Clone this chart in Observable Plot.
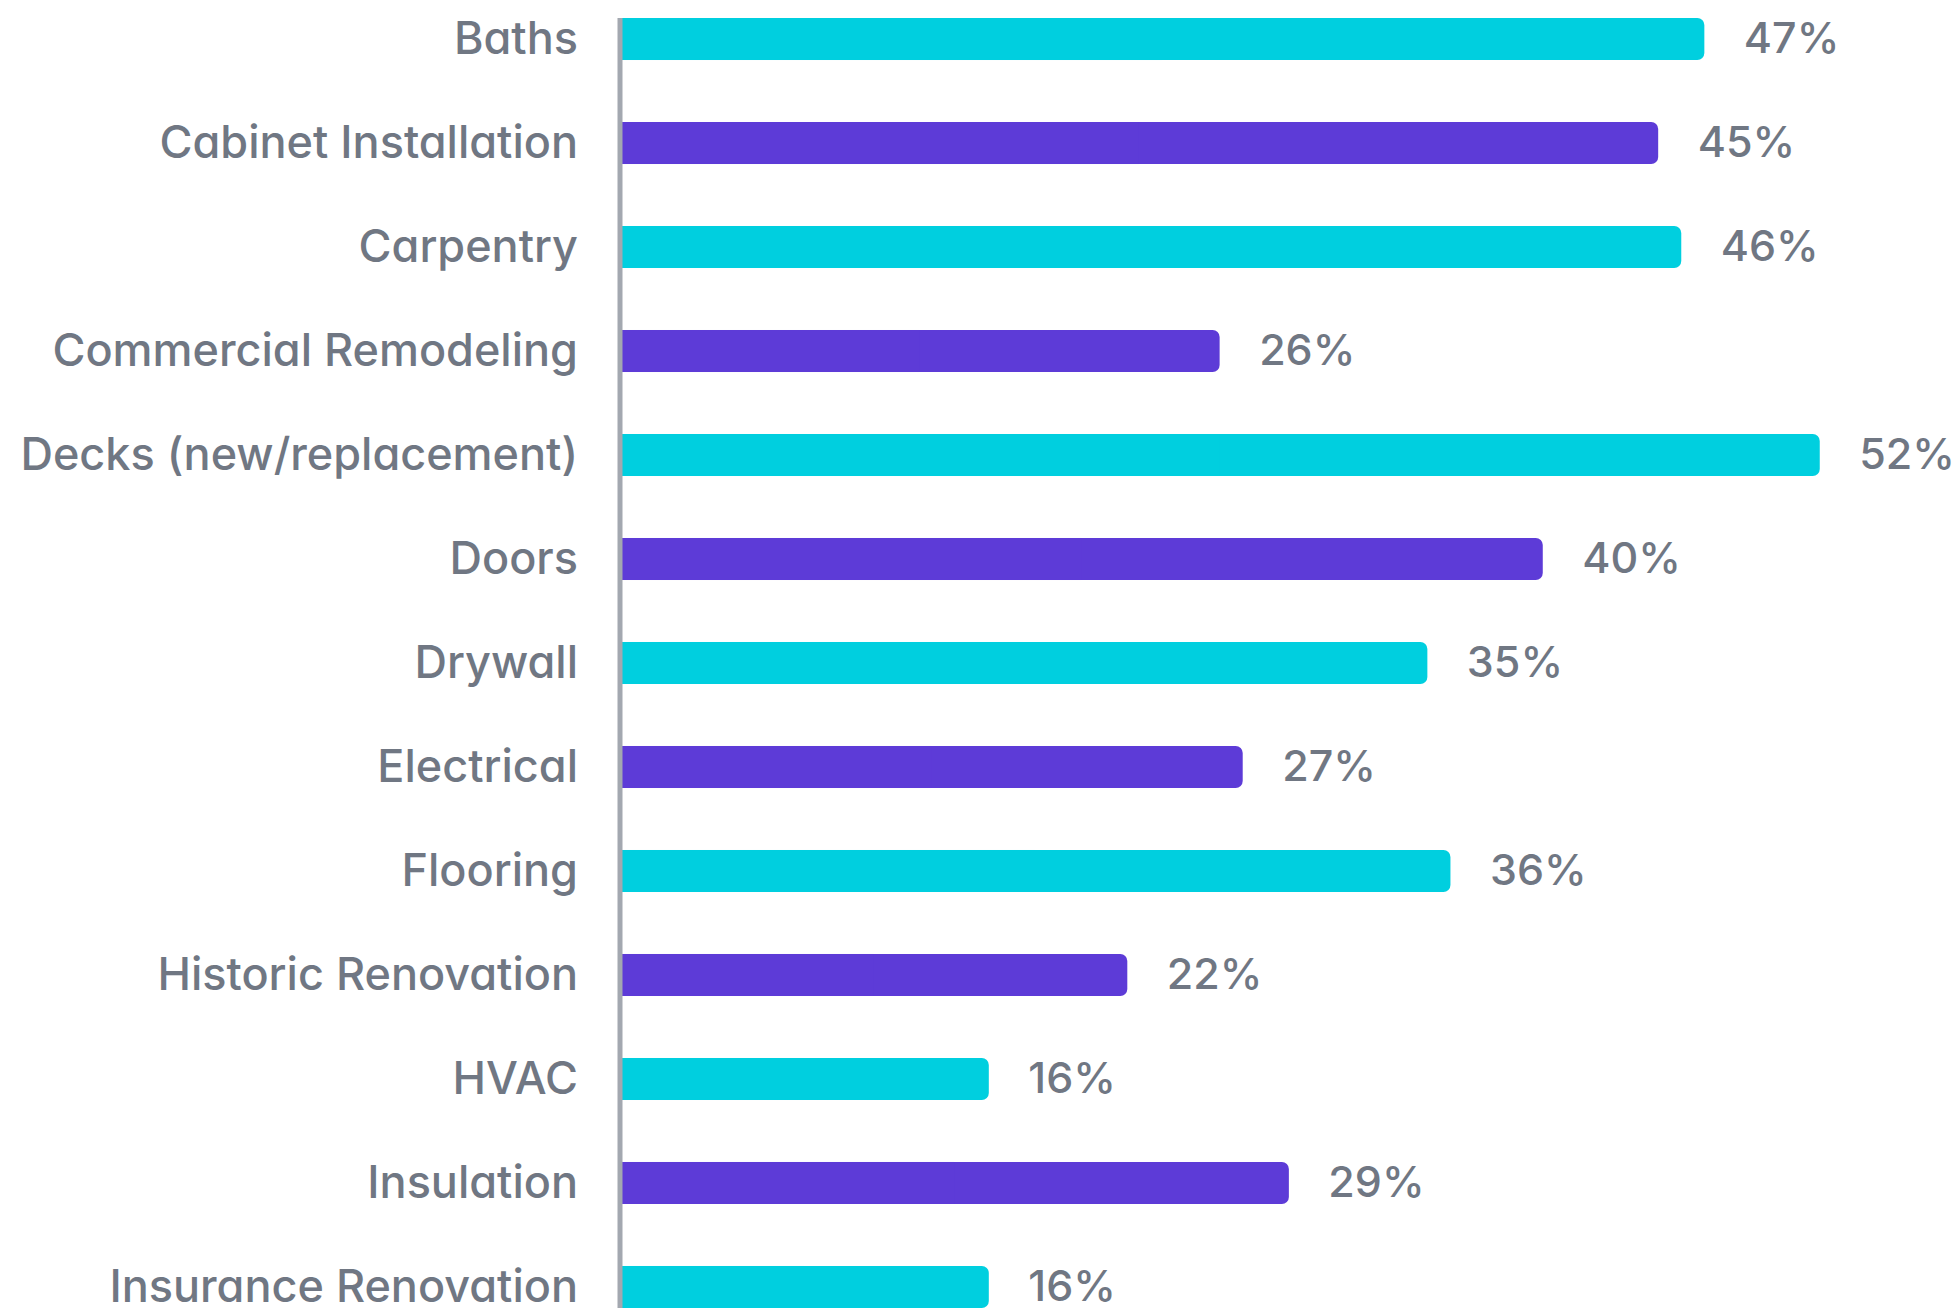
<!DOCTYPE html>
<html>
<head>
<meta charset="utf-8">
<script src="https://cdn.jsdelivr.net/npm/d3@7"></script>
<script src="https://cdn.jsdelivr.net/npm/@observablehq/plot@0.6"></script>
<style>
  html, body { margin: 0; padding: 0; background: #ffffff; }
  #chart svg { display: block; }
</style>
</head>
<body>
<div id="chart"></div>
<script>
const categories = [
  "Baths", "Cabinet Installation", "Carpentry", "Commercial Remodeling",
  "Decks (new/replacement)", "Doors", "Drywall", "Electrical", "Flooring",
  "Historic Renovation", "HVAC", "Insulation", "Insurance Renovation"
];
const values = [47, 45, 46, 26, 52, 40, 35, 27, 36, 22, 16, 29, 16];
const colors = ["#00cfdf", "#5d3bd7"];

const data = categories.map((c, i) => ({category: c, value: values[i], color: colors[i % 2]}));

const gray = "#707783";
const chart = Plot.plot({
  width: 1957,
  height: 1312,
  marginLeft: 619.5,
  marginRight: 68,
  marginTop: 18,
  marginBottom: 4,
  style: {
    fontFamily: "Inter, 'Noto Sans', sans-serif",
    fontSize: "45px",
    fontWeight: 500,
    color: gray,
    background: "#ffffff",
    fontFeatureSettings: "'cv11' 1"
  },
  x: {domain: [0, 55], axis: null},
  y: {domain: categories, paddingInner: 0.596, paddingOuter: 0, align: 0.5, round: false, label: null},
  marks: [
    Plot.barX(data, {y: "category", x1: 0, x2: "value", fill: "color", rx: 7}),
    Plot.barX(data, {y: "category", x1: 0, x2: d => d.value / 2, fill: "color"}),
    Plot.ruleX([0], {stroke: "#a3a8b0", strokeWidth: 5}),
    Plot.axisY({tickSize: 0, tickPadding: 42, label: null, fill: gray, fontSize: 45}),
    Plot.text(data, {
      y: "category", x: "value", text: d => d.value + "%",
      textAnchor: "start", dx: 39, fill: gray, fontSize: 43, fontWeight: 500
    })
  ]
});
document.getElementById("chart").appendChild(chart);
</script>
</body>
</html>
